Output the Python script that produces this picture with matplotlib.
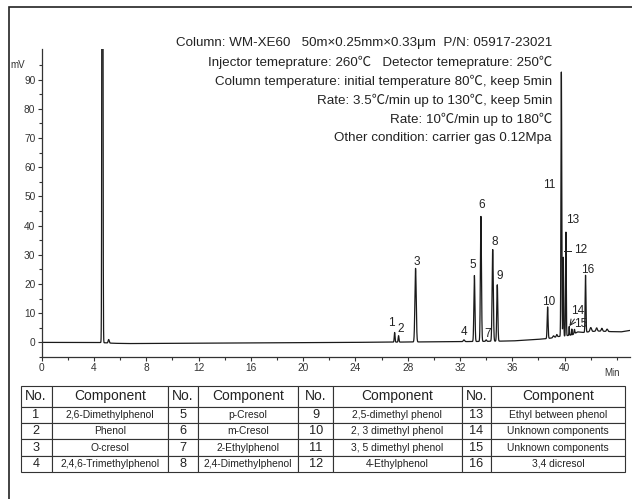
import numpy as np
import matplotlib.pyplot as plt
from matplotlib.patches import Rectangle

plt.rcParams['font.family'] = ['Liberation Sans', 'Noto Sans CJK SC', 'DejaVu Sans']
plt.rcParams['axes.unicode_minus'] = False

# ピーク情報（保持時間 min, 高さ mV, 幅 sigma）
peak_no = ['1', '2', '3', '4', '5', '6', '7', '8', '9', '10', '11', '12', '13', '14', '15', '16']
peak_time = [27.0, 27.3, 28.6, 32.3, 33.1, 33.6, 34.0, 34.5, 34.85, 38.7, 39.75, 39.9, 40.1, 40.35, 40.55, 41.6]
peak_height = [3.3, 2.2, 25.2, 0.6, 22.6, 42.8, 0.5, 31.4, 19.3, 10.8, 90.5, 27.0, 35.5, 3.0, 2.0, 19.5]
peak_sigma = [0.03, 0.03, 0.05, 0.05, 0.04, 0.04, 0.04, 0.045, 0.04, 0.035, 0.03, 0.025, 0.025, 0.02, 0.02, 0.03]

# 溶媒ピークと小さな雑ピーク（番号なし）
extra_time = [4.65, 5.13, 39.15, 39.4, 40.75, 42.0, 42.45, 42.85, 43.25]
extra_height = [400.0, 1.2, 0.6, 0.8, 1.5, 1.4, 1.1, 1.0, 0.8]
extra_sigma = [0.03, 0.04, 0.05, 0.04, 0.03, 0.06, 0.05, 0.05, 0.05]

# ベースライン
base_t = [0, 4.3, 5.5, 6.5, 10, 20, 27, 30, 33, 36, 37.5, 38.4, 39.0, 39.5, 40.0, 40.6, 41.0, 41.4, 41.8, 42.5, 43.5, 44.3, 45]
base_v = [0, 0, -0.3, -0.4, -0.3, -0.1, 0.1, 0.2, 0.3, 0.5, 0.9, 1.2, 1.5, 2.0, 2.2, 2.6, 3.6, 3.4, 3.6, 3.9, 3.7, 3.6, 4.1]

info_lines = [
    "Column: WM-XE60   50m×0.25mm×0.33μm  P/N: 05917-23021",
    "Injector temeprature: 260℃   Detector temeprature: 250℃",
    "Column temperature: initial temperature 80℃, keep 5min",
    "Rate: 3.5℃/min up to 130℃, keep 5min",
    "Rate: 10℃/min up to 180℃",
    "Other condition: carrier gas 0.12Mpa",
]

table_header = ['No.', 'Component', 'No.', 'Component', 'No.', 'Component', 'No.', 'Component']
comp_names = [
    '2,6-Dimethylphenol', 'Phenol', 'O-cresol', '2,4,6-Trimethylphenol',
    'p-Cresol', 'm-Cresol', '2-Ethylphenol', '2,4-Dimethylphenol',
    '2,5-dimethyl phenol', '2, 3 dimethyl phenol', '3, 5 dimethyl phenol', '4-Ethylphenol',
    'Ethyl between phenol', 'Unknown components', 'Unknown components', '3,4 dicresol',
]

# ラベル位置（データ座標）
label_pos = [(26.73, 6.6), (27.49, 4.7), (28.68, 27.7), (32.32, 3.5), (33.01, 26.4),
             (33.67, 46.9), (34.10, 2.9), (34.66, 34.3), (35.07, 22.6), (38.81, 13.8),
             (38.81, 53.8), (41.23, 31.5), (40.59, 42.0), (40.97, 10.6), (41.23, 6.2),
             (41.74, 24.9)]

# 信号の合成
t = np.linspace(0, 45, 9001)
y = np.interp(t, base_t, base_v)
for tm, h, s in zip(peak_time + extra_time, peak_height + extra_height, peak_sigma + extra_sigma):
    y += h * np.exp(-0.5 * ((t - tm) / s) ** 2)

W, H = 632, 499
fig = plt.figure(figsize=(W / 100, H / 100), dpi=100)
fig.patches.append(Rectangle((9.3 / W, -0.1), 1.2, 1 - 7.5 / H + 0.1, transform=fig.transFigure,
                             fill=False, edgecolor='#222', linewidth=1.2))

ax = fig.add_axes([41.6 / W, 1 - 357 / H, (630 - 41.6) / W, (357 - 49) / H])
ax.plot(t, y, color='#1a1a1a', linewidth=0.9)
ax.set_xlim(0, 45)
ax.set_ylim(-5, 100.5)
for side in ['top', 'right']:
    ax.spines[side].set_visible(False)
for side in ['left', 'bottom']:
    ax.spines[side].set_linewidth(0.9)
    ax.spines[side].set_color('#333')

ax.set_xticks(np.arange(0, 41, 4))
ax.set_xticks(np.arange(0, 45, 2), minor=True)
ax.set_yticks(np.arange(0, 91, 10))
ax.set_yticks(np.arange(-5, 100, 5), minor=True)
ax.tick_params(axis='both', which='major', labelsize=7.3, labelcolor='#333', length=3, width=0.8, pad=1.5, color='#333')
ax.tick_params(axis='both', which='minor', length=2, width=0.8, color='#333')

ax.text(-1.3, 95, 'mV', fontsize=7, color='#333', ha='right', va='center')
ax.text(43.6, -10.5, 'Min', fontsize=7, color='#333', ha='center', va='center')

for no, (lx, ly) in zip(peak_no, label_pos):
    ax.text(lx, ly, no, fontsize=8.5, ha='center', va='center', color='#222')

# 12 と 14 の引出線
ax.plot([peak_time[11] + 0.02, 40.45], [31.3, 31.3], color='#222', linewidth=0.7)
ax.annotate('', xy=(peak_time[13] + 0.02, 5.6), xytext=(40.75, 8.0),
            arrowprops=dict(arrowstyle='->', color='#222', lw=0.7, shrinkA=0, shrinkB=0))

for i, line in enumerate(info_lines):
    fig.text(552 / W, 1 - (43 + 19 * i) / H, line, fontsize=9.6, ha='right', va='center', color='#222')

# 成分表
cell_text = []
for r in range(4):
    row = []
    for c in range(4):
        idx = c * 4 + r
        row += [str(idx + 1), comp_names[idx]]
    cell_text.append(row)

col_w = [31, 116.6, 29.4, 100.6, 35, 128.4, 29.3, 134]
tax = fig.add_axes([20.5 / W, 1 - 472 / H, 604.5 / W, (472 - 386) / H])
tax.axis('off')
tbl = tax.table(cellText=cell_text, colLabels=table_header, colWidths=[w / sum(col_w) for w in col_w],
                cellLoc='center', bbox=[0, 0, 1, 1])
tbl.auto_set_font_size(False)
for (r, c), cell in tbl.get_celld().items():
    cell.set_linewidth(0.8)
    cell.set_edgecolor('#333')
    cell.set_height(21 if r == 0 else 16.3)
    txt = cell.get_text()
    txt.set_color('#222')
    if r == 0:
        txt.set_fontsize(10)
    elif c % 2 == 0:
        txt.set_fontsize(9.2)
    else:
        txt.set_fontsize(7.4)

fig.savefig('out.png', dpi=100)
